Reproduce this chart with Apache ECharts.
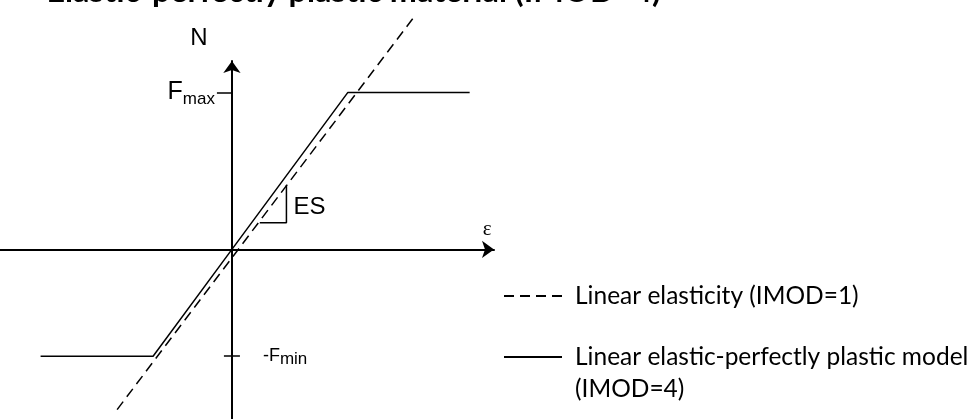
<!DOCTYPE html>
<html>
<head>
<meta charset="utf-8">
<script src="https://cdn.jsdelivr.net/npm/echarts@6/dist/echarts.min.js"></script>
<style>html,body{margin:0;padding:0;background:#fff}#c{width:976px;height:419px}</style>
</head>
<body>
<div id="c"></div>
<script>
// ---- data (ε and N in relative units, Fmax = 1) ----
const titleText = 'Elastic-perfectly plastic material (IMOD=4)';
const seriesNames = ['Linear elasticity (IMOD=1)', 'Linear elastic-perfectly plastic model\n(IMOD=4)'];
const elasticPts = [[-0.99, -1.02], [1.58, 1.49]];
const plasticPts = [[-1.65, -0.68], [-0.68, -0.68], [0, 0], [1, 1], [2.05, 1]];
const slopePts = [[0.24, 0.17], [0.47, 0.17], [0.47, 0.41]];
const slopeLabelAt = [0.47, 0.27];
const epsLabelAt = [2.2, 0.125];
const fMax = 1;
const fMin = -0.68;
const xRange = [-2, 2.26];
const yRange = [-1.08, 1.2];

// ---- layout ----
const G = {left: 0, top: 61, width: 494, height: 358};
const zeroX = G.left + G.width * (0 - xRange[0]) / (xRange[1] - xRange[0]);
const zeroY = G.top + G.height * (yRange[1] - 0) / (yRange[1] - yRange[0]);

// title: only the descenders of its letters show at the top edge of the picture
const mc = document.createElement('canvas').getContext('2d');
mc.font = 'bold 100px Lato';
const wA = mc.measureText('Elastic-').width;
const wB = mc.measureText('Elastic-perfectly plastic material ').width;
let titleSize = 100 * (515 - 152) / (wB - wA);
if (!(titleSize > 20 && titleSize < 40)) titleSize = 31;
const titleLeft = 152 - wA * titleSize / 100;
const titleLineH = Math.round(titleSize);
const descenderBottom = 6;        // lowest ink row of the title's descenders in the reference
let titleTop = 10 - titleLineH;   // first pass: clearly on screen, refined below

const chart = echarts.init(document.getElementById('c'), null, {renderer: 'canvas'});
const sans = 'Liberation Sans, Arial, sans-serif';
const black = '#000';
const legendFont = {fontFamily: 'Lato', fontSize: 24.5, color: black, lineHeight: 32, padding: [0, 0, 0, 8]};

chart.setOption({
  animation: false,
  backgroundColor: '#fff',
  title: {
    text: titleText, left: titleLeft, top: titleTop, padding: 0,
    textStyle: {fontFamily: 'Lato', fontWeight: 'bold', fontSize: titleSize, lineHeight: titleLineH, color: black}
  },
  grid: {left: G.left, width: G.width, top: G.top, height: G.height, containLabel: false, outerBoundsMode: 'none'},
  legend: {
    orient: 'vertical', left: 498, top: 275, height: 300, itemGap: -3,
    itemWidth: 58, itemHeight: 14, selectedMode: false,
    itemStyle: {opacity: 0},
    // a wrapped name gets an empty first line so its first text line sits level with the line sample
    formatter: name => (name.indexOf('\n') >= 0 ? '\n' + name : name),
    textStyle: legendFont,
    data: seriesNames
  },
  xAxis: {
    type: 'value', min: xRange[0], max: xRange[1], position: 'bottom',
    offset: -(G.top + G.height - zeroY),
    axisLine: {onZero: false, symbol: ['none', 'arrow'], symbolSize: [13, 12], lineStyle: {color: black, width: 2}},
    axisTick: {show: false}, axisLabel: {show: false}, splitLine: {show: false}
  },
  yAxis: [
    {
      type: 'value', min: yRange[0], max: yRange[1], position: 'left',
      offset: -(zeroX - G.left),
      name: 'N', nameLocation: 'end', nameGap: 23,
      nameTextStyle: {fontFamily: sans, fontSize: 24, color: black, align: 'center', verticalAlign: 'middle', padding: [0, 66, 0, 0]},
      axisLine: {onZero: false, symbol: ['none', 'arrow'], symbolSize: [13, 12], lineStyle: {color: black, width: 2}},
      axisTick: {show: true, customValues: [fMin], length: 8, lineStyle: {color: black, width: 1.5}},
      axisLabel: {show: false},
      splitLine: {show: false}
    },
    {
      type: 'value', min: yRange[0], max: yRange[1], position: 'right',
      offset: -(G.left + G.width - zeroX),
      axisLine: {show: false, onZero: false},
      axisTick: {show: true, customValues: [fMin], length: 8, lineStyle: {color: black, width: 1.5}},
      axisLabel: {
        show: true, customValues: [fMin], margin: 31, showMinLabel: true, showMaxLabel: true,
        formatter: () => '{a|-F}{b|min}',
        rich: {
          a: {fontFamily: sans, fontSize: 18, color: black, lineHeight: 24},
          b: {fontFamily: sans, fontSize: 17, color: black, verticalAlign: 'bottom', lineHeight: 20}
        }
      },
      splitLine: {show: false}
    },
    {
      type: 'value', min: yRange[0], max: yRange[1], position: 'left',
      offset: -(zeroX - G.left),
      axisLine: {show: false, onZero: false},
      axisTick: {show: true, customValues: [fMax], length: 15, lineStyle: {color: black, width: 1.5}},
      axisLabel: {
        show: true, customValues: [fMax], margin: 17, showMinLabel: true, showMaxLabel: true,
        formatter: () => '{a|F}{b|max}',
        rich: {
          a: {fontFamily: sans, fontSize: 25, color: black, lineHeight: 30},
          b: {fontFamily: sans, fontSize: 17, color: black, verticalAlign: 'bottom', lineHeight: 22}
        }
      },
      splitLine: {show: false}
    }
  ],
  series: [
    {
      name: seriesNames[0], type: 'line', data: elasticPts, clip: false,
      symbol: 'none', silent: true,
      lineStyle: {color: black, width: 1.5, type: [10, 6]}
    },
    {
      name: seriesNames[1], type: 'line', data: plasticPts, clip: false,
      symbol: 'none', silent: true,
      lineStyle: {color: black, width: 1.5, type: 'solid'}
    },
    {
      name: 'ES', type: 'line', data: slopePts, clip: false,
      symbol: 'none', silent: true,
      lineStyle: {color: black, width: 1.5},
      markPoint: {
        symbol: 'circle', symbolSize: 0, silent: true,
        data: [
          {coord: slopeLabelAt, value: 'ES', label: {position: 'right', distance: 7, formatter: 'ES', fontFamily: sans, fontSize: 24}},
          {coord: epsLabelAt, value: 'ε', label: {position: 'inside', formatter: 'ε', fontFamily: 'Liberation Serif', fontSize: 21}}
        ],
        label: {show: true, color: black}
      }
    }
  ]
});

// second pass: find where the "p" descender of the title actually landed and lift the title
try {
  const zr = chart.getZr();
  if (zr.refreshImmediately) zr.refreshImmediately();
  const cv = chart.getDom().querySelector('canvas');
  const ctx = cv.getContext('2d');
  const sx = 146, sw = 26, sh = 60;
  const px = ctx.getImageData(sx, 0, sw, sh).data;
  let lowest = -1;
  for (let y = 0; y < sh; y++) {
    for (let x = 0; x < sw; x++) {
      const i = (y * sw + x) * 4;
      if (px[i + 3] > 100 && px[i] < 140) { lowest = y; break; }
    }
  }
  if (lowest >= 0) {
    titleTop += descenderBottom - lowest;
    chart.setOption({title: {top: titleTop}});
  }
} catch (e) {
  chart.setOption({title: {top: -28}});
}
</script>
</body>
</html>
